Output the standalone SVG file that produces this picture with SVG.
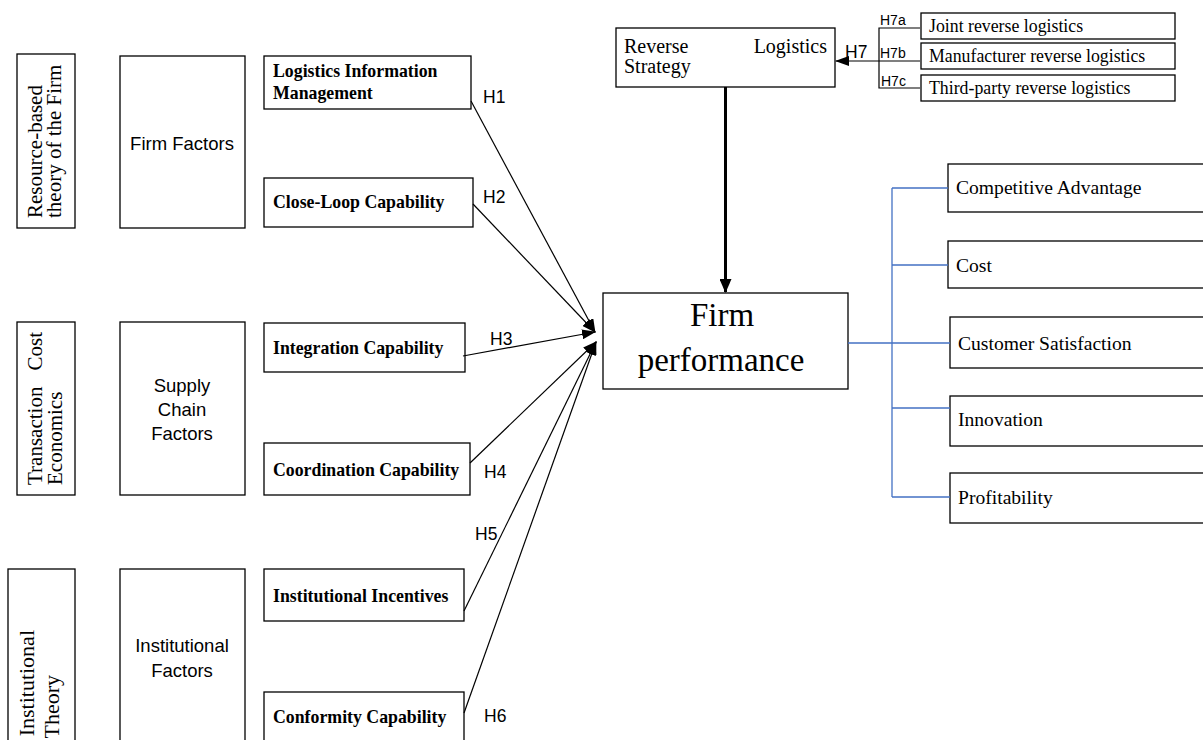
<svg xmlns="http://www.w3.org/2000/svg" width="1203" height="740" viewBox="0 0 1203 740">
<style>
.box{fill:#fff;stroke:#000;stroke-width:1.3}
.rot{font-family:"Liberation Serif",serif;font-size:21px;fill:#000}
.sans{font-family:"Liberation Sans",sans-serif;font-size:18.5px;fill:#000}
.bold{font-family:"Liberation Serif",serif;font-size:17.8px;font-weight:bold;fill:#000}
.ser{font-family:"Liberation Serif",serif;font-size:19.6px;fill:#000}
.small{font-family:"Liberation Serif",serif;font-size:17.8px;fill:#000}
.h{font-family:"Liberation Sans",sans-serif;font-size:17.5px;fill:#000}
.hs{font-family:"Liberation Sans",sans-serif;font-size:14px;fill:#000}
.ln{stroke:#000;stroke-width:1.2;fill:none}
.blue{stroke:#4472C4;stroke-width:1.3;fill:none}
</style>
<defs>
<marker id="ah" markerUnits="userSpaceOnUse" markerWidth="14" markerHeight="10" refX="13" refY="5" orient="auto">
<path d="M0,0 L14,5 L0,10 Z" fill="#000"/>
</marker>
<marker id="ahb" markerUnits="userSpaceOnUse" markerWidth="14" markerHeight="12" refX="13" refY="6" orient="auto">
<path d="M0,0 L14,6 L0,12 Z" fill="#000"/>
</marker>
</defs>
<rect width="1203" height="740" fill="#fff"/>

<g id="theory-rbt">
<rect class="box" x="17" y="54" width="58" height="174"/>
<text class="rot" transform="translate(42,218) rotate(-90)">Resource-based</text>
<text class="rot" transform="translate(61,218) rotate(-90)">theory of the Firm</text>
</g>
<g id="theory-tce">
<rect class="box" x="17" y="322" width="58" height="173"/>
<text class="rot" transform="translate(42,485) rotate(-90)">Transaction</text>
<text class="rot" text-anchor="end" transform="translate(42,332) rotate(-90)">Cost</text>
<text class="rot" transform="translate(62,485) rotate(-90)">Economics</text>
</g>
<g id="theory-inst">
<rect class="box" x="8" y="569" width="67" height="180"/>
<text class="rot" text-anchor="end" transform="translate(34,630) rotate(-90)" style="font-size:22px">Institutional</text>
<text class="rot" text-anchor="end" transform="translate(59,675) rotate(-90)" style="font-size:22px">Theory</text>
</g>

<g id="firm-factors">
<rect class="box" x="120" y="56" width="125" height="172"/>
<text class="sans" x="182" y="150" text-anchor="middle">Firm Factors</text>
</g>
<g id="sc-factors">
<rect class="box" x="120" y="322" width="125" height="173"/>
<text class="sans" x="182" y="392" text-anchor="middle">Supply</text>
<text class="sans" x="182" y="416" text-anchor="middle">Chain</text>
<text class="sans" x="182" y="440" text-anchor="middle">Factors</text>
</g>
<g id="inst-factors">
<rect class="box" x="120" y="569" width="125" height="180"/>
<text class="sans" x="182" y="652" text-anchor="middle">Institutional</text>
<text class="sans" x="182" y="677" text-anchor="middle">Factors</text>
</g>

<g id="lim">
<rect class="box" x="264" y="56" width="207" height="53"/>
<text class="bold" x="273" y="77">Logistics Information</text>
<text class="bold" x="273" y="99">Management</text>
</g>
<g id="clc">
<rect class="box" x="264" y="178" width="209" height="49"/>
<text class="bold" x="273" y="208">Close-Loop Capability</text>
</g>
<g id="ic">
<rect class="box" x="264" y="323" width="201" height="49"/>
<text class="bold" x="273" y="354">Integration Capability</text>
</g>
<g id="cc">
<rect class="box" x="264" y="443" width="206" height="52"/>
<text class="bold" x="273" y="476">Coordination Capability</text>
</g>
<g id="ii">
<rect class="box" x="264" y="569" width="200" height="52"/>
<text class="bold" x="273" y="602">Institutional Incentives</text>
</g>
<g id="conf">
<rect class="box" x="264" y="692" width="200" height="60"/>
<text class="bold" x="273" y="723">Conformity Capability</text>
</g>

<g id="rls">
<rect class="box" x="616" y="28" width="219" height="59"/>
<text class="ser" x="624" y="53" style="font-size:20px">Reverse</text>
<text class="ser" x="827" y="53" text-anchor="end" style="font-size:20px">Logistics</text>
<text class="ser" x="624" y="73" style="font-size:20px">Strategy</text>
</g>

<g id="fp">
<rect class="box" x="603" y="293" width="245" height="96"/>
<text class="ser" x="722" y="326" text-anchor="middle" style="font-size:33px">Firm</text>
<text class="ser" x="721" y="371" text-anchor="middle" style="font-size:33px">performance</text>
</g>

<g id="jrl">
<rect class="box" x="921" y="13" width="254" height="26"/>
<text class="small" x="929" y="32">Joint reverse logistics</text>
</g>
<g id="mrl">
<rect class="box" x="921" y="43" width="254" height="26"/>
<text class="small" x="929" y="62">Manufacturer reverse logistics</text>
</g>
<g id="tprl">
<rect class="box" x="921" y="75" width="254" height="26"/>
<text class="small" x="929" y="94">Third-party reverse logistics</text>
</g>

<g id="ca">
<rect class="box" x="948" y="164" width="260" height="48"/>
<text class="ser" x="956" y="194">Competitive Advantage</text>
</g>
<g id="cost">
<rect class="box" x="948" y="241" width="260" height="47"/>
<text class="ser" x="956" y="272">Cost</text>
</g>
<g id="cs">
<rect class="box" x="950" y="317" width="260" height="51"/>
<text class="ser" x="958" y="350">Customer Satisfaction</text>
</g>
<g id="inn">
<rect class="box" x="950" y="396" width="260" height="50"/>
<text class="ser" x="958" y="426">Innovation</text>
</g>
<g id="prof">
<rect class="box" x="950" y="473" width="260" height="50"/>
<text class="ser" x="958" y="504">Profitability</text>
</g>

<g id="connectors">
<line class="ln" x1="471" y1="101" x2="595" y2="332" marker-end="url(#ah)"/>
<line class="ln" x1="473" y1="204" x2="595" y2="332" marker-end="url(#ah)"/>
<line class="ln" x1="463" y1="356" x2="595" y2="332" marker-end="url(#ah)"/>
<line class="ln" x1="470" y1="463" x2="596" y2="342" marker-end="url(#ah)"/>
<line class="ln" x1="464" y1="611" x2="596" y2="342" marker-end="url(#ah)"/>
<line class="ln" x1="464" y1="713" x2="596" y2="342" marker-end="url(#ah)"/>
<text class="h" x="483" y="103">H1</text>
<text class="h" x="483" y="203">H2</text>
<text class="h" x="490" y="345">H3</text>
<text class="h" x="484" y="478">H4</text>
<text class="h" x="475" y="540">H5</text>
<text class="h" x="484" y="722">H6</text>

<line x1="725.5" y1="87" x2="725.5" y2="292" stroke="#000" stroke-width="3" marker-end="url(#ahb)"/>

<path class="ln" d="M920,28 H879 V88 H920 M879,61 H920"/>
<line class="ln" x1="879" y1="61" x2="836" y2="61" marker-end="url(#ah)"/>
<text class="h" x="845" y="58">H7</text>
<text class="hs" x="880" y="25">H7a</text>
<text class="hs" x="880" y="58">H7b</text>
<text class="hs" x="881" y="86">H7c</text>

<path class="blue" d="M848,343 H892 M892,188 V497 M892,188 H948 M892,265 H948 M892,343 H950 M892,408 H950 M892,497 H950"/>
</g>
</svg>
